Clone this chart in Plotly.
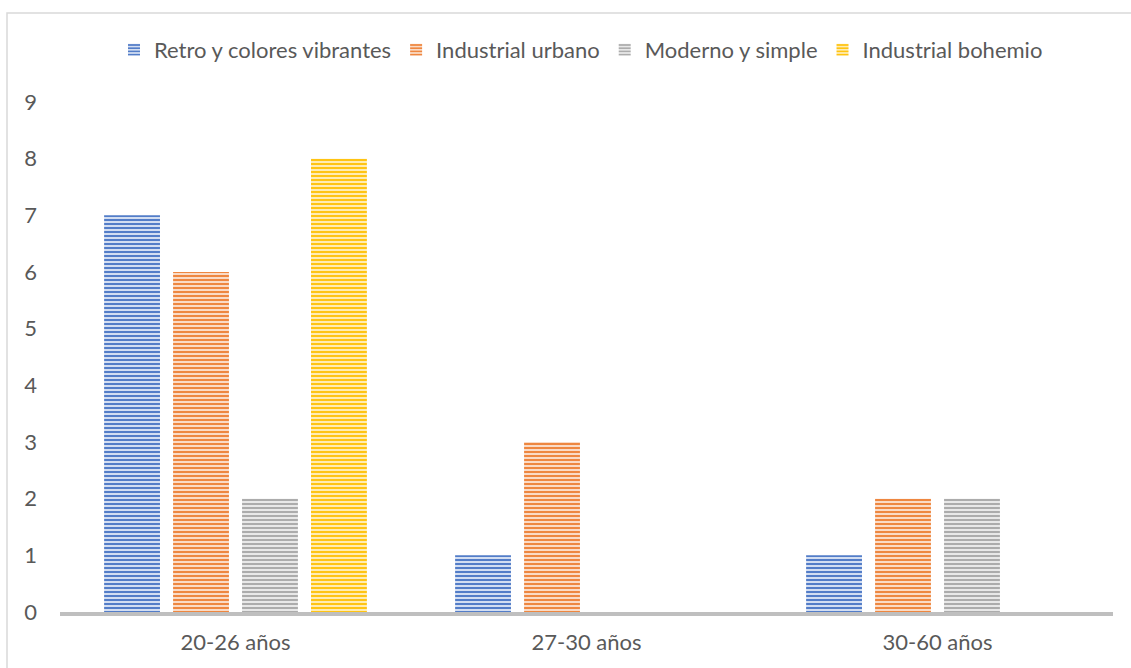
import plotly.graph_objects as go

# Age groups on the x axis
categories = ["20-26 años", "27-30 años", "30-60 años"]

# Counts per decoration style
series_names = ["Retro y colores vibrantes", "Industrial urbano", "Moderno y simple", "Industrial bohemio"]
retro = [7, 1, 1]
industrial_urbano = [6, 3, 2]
moderno = [2, 0, 2]
industrial_bohemio = [8, 0, 0]

y_ticks = list(range(0, 10))

colors = ["#4472C4", "#ED7D31", "#A5A5A5", "#FFC000"]
light = ["#D3DEF2", "#FADBC6", "#E8E8E8", "#FFECB3"]

fig = go.Figure()
for name, vals, c, lc in zip(series_names, [retro, industrial_urbano, moderno, industrial_bohemio], colors, light):
    fig.add_trace(go.Bar(
        x=categories, y=vals, name=name,
        marker=dict(
            color=c,
            line=dict(width=0),
            pattern=dict(shape="-", size=4, solidity=0.45, fgcolor=c, bgcolor=lc, fillmode="replace"),
        ),
    ))

# outer chart frame
fig.add_shape(type="rect", xref="paper", yref="paper",
              x0=(7 - 60) / 1053, x1=1.03, y0=-0.13, y1=1 + (102 - 13) / 510,
              line=dict(color="#D9D9D9", width=1.5), fillcolor="rgba(0,0,0,0)", layer="below")

font_family = "Lato, 'Open Sans', sans-serif"
fs = 22
fig.update_layout(
    width=1131, height=668,
    margin=dict(l=60, r=18, t=102, b=56, autoexpand=False),
    paper_bgcolor="white", plot_bgcolor="white",
    barmode="group", bargap=0.214, bargroupgap=0.19,
    font=dict(family=font_family, size=fs, color="#595959"),
    legend=dict(orientation="h", x=(581 - 60) / 1053, xanchor="center", y=1 + (102 - 50) / 510,
                yanchor="middle", font=dict(size=fs, color="#595959"), itemwidth=30,
                traceorder="normal"),
    xaxis=dict(showline=True, linecolor="#BFBFBF", linewidth=3.5, ticks="", showgrid=False,
               automargin=False, ticklabelstandoff=8, tickfont=dict(size=fs, color="#595959")),
    yaxis=dict(range=[0, 9], tickvals=y_ticks, showgrid=False, zeroline=False, showline=False,
               automargin=False, ticks="", ticklabelstandoff=22,
               tickfont=dict(size=fs, color="#595959")),
)

fig.write_html("out.html")
